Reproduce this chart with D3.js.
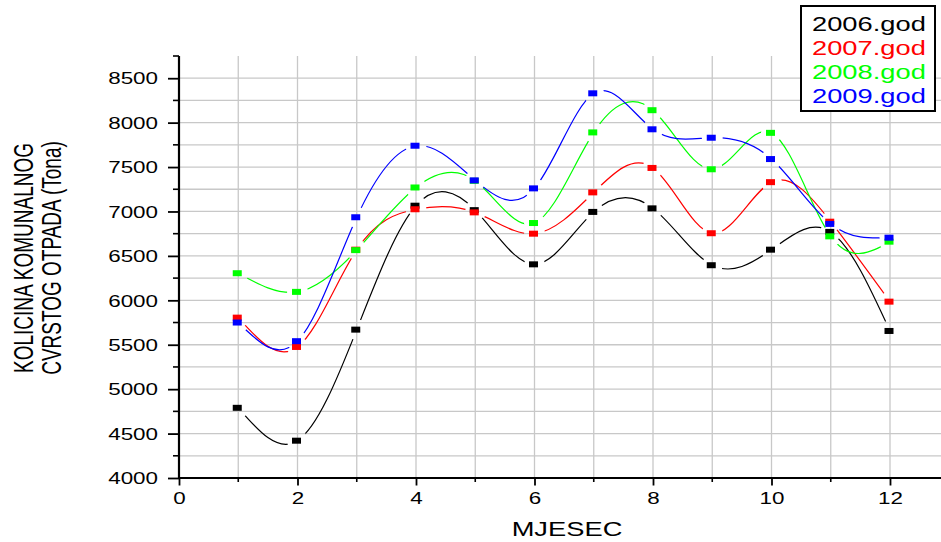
<!DOCTYPE html>
<html>
<head>
<meta charset="utf-8">
<script src="https://cdn.jsdelivr.net/npm/d3@7"></script>
<style>
	body { margin: 0; background: #fff; }
	text { font-family: 'Liberation Sans', Arial, sans-serif; }
</style>
</head>
<body>
<div id="chart"></div>
<script>
// monthly amounts of municipal solid waste (tonnes)
const months = [ 1, 2, 3, 4, 5, 6, 7, 8, 9, 10, 11, 12 ]
const god2006 = [ 4790, 4420, 5670, 7065, 7015, 6405, 6995, 7035, 6395, 6570, 6770, 5655 ]
const god2007 = [ 5805, 5475, 6570, 7025, 6990, 6750, 7215, 7490, 6755, 7330, 6885, 5985 ]
const god2008 = [ 6305, 6095, 6565, 7270, 7345, 6870, 7890, 8140, 7475, 7885, 6720, 6660 ]
const god2009 = [ 5750, 5540, 6935, 7740, 7350, 7260, 8330, 7925, 7830, 7590, 6860, 6705 ]
const seriesNames = [ '2006.god', '2007.god', '2008.god', '2009.god' ]
const seriesColors = [ '#000000', '#ff0000', '#00ff00', '#0000ff' ]
const xTicks = [ 0, 2, 4, 6, 8, 10, 12 ]
const yTicks = [ 4000, 4500, 5000, 5500, 6000, 6500, 7000, 7500, 8000, 8500 ]

const allSeries = [ god2006, god2007, god2008, god2009 ]
const width = 941
const height = 542
const sx = 1.4 // the original picture is stretched sideways

const svg = d3.select('#chart').append('svg')
	.attr('width', width)
	.attr('height', height)

svg.append('rect').attr('width', width).attr('height', height).attr('fill', '#fff')

const x = d3.scaleLinear().domain([ 0, 13 ]).range([ 179, 179 + 13 * 59.25 ])
const y = d3.scaleLinear().domain([ 4000, 8750 ]).range([ 478, 56 ])

// grid
const grid = svg.append('g').attr('stroke', '#c8c8c8').attr('stroke-width', 1.3)
grid.selectAll('line.h')
	.data(d3.range(4250, 8501, 250))
	.enter().append('line')
	.attr('x1', x(0)).attr('x2', width)
	.attr('y1', d => y(d)).attr('y2', d => y(d))
grid.selectAll('line.v')
	.data(d3.range(1, 13))
	.enter().append('line')
	.attr('y1', y(4000)).attr('y2', y(8750))
	.attr('x1', d => x(d)).attr('x2', d => x(d))

// axes
const yAxis = svg.append('g')
	.attr('transform', `translate(${ x(0) },0)`)
	.call(d3.axisLeft(y).tickValues(yTicks).tickFormat(d3.format('d'))
		.tickSize(11).tickPadding(10).tickSizeOuter(0))
yAxis.append('g').selectAll('line')
	.data(d3.range(4250, 8751, 500))
	.enter().append('line')
	.attr('x1', -6).attr('x2', 0)
	.attr('y1', d => y(d)).attr('y2', d => y(d))
	.attr('stroke', '#000').attr('stroke-width', 1.6)

const xAxis = svg.append('g')
	.attr('transform', `translate(0,${ y(4000) })`)
	.call(d3.axisBottom(x).tickValues(xTicks).tickFormat(d3.format('d'))
		.tickSize(7.5).tickPadding(7).tickSizeOuter(0))
xAxis.append('g').selectAll('line')
	.data(d3.range(1, 13, 2))
	.enter().append('line')
	.attr('y1', 0).attr('y2', 4)
	.attr('x1', d => x(d)).attr('x2', d => x(d))
	.attr('stroke', '#000').attr('stroke-width', 1.6)

xAxis.select('.domain').attr('d', `M${ x(0) },0H${ width }`)
yAxis.select('.domain').attr('d', `M0,${ y(4000) }V${ y(8750) }`)

svg.selectAll('.domain').attr('stroke', '#000').attr('stroke-width', 2.2)
svg.selectAll('.tick line').attr('stroke', '#000').attr('stroke-width', 1.8)
svg.selectAll('.tick text')
	.attr('font-family', "'Liberation Sans', Arial, sans-serif")
	.attr('font-size', 16)
	.attr('fill', '#000')
yAxis.selectAll('.tick text')
	.attr('x', -21 / sx)
	.attr('dy', '0.36em')
	.attr('transform', `scale(${ sx },1)`)
xAxis.selectAll('.tick text')
	.attr('y', 0)
	.attr('dy', 26)
	.attr('transform', `scale(${ sx },1)`)

// stretched text helper
const stretched = (str, tx, ty, size, color, anchor, rot, k = sx) => {
	svg.append('text')
		.attr('transform', rot
			? `translate(${ tx },${ ty }) rotate(-90) scale(1,${ k })`
			: `translate(${ tx },${ ty }) scale(${ k },1)`)
		.attr('text-anchor', anchor)
		.attr('font-size', size)
		.attr('fill', color)
		.text(str)
}

stretched('MJESEC', 567, 536, 19.5, '#000', 'middle')
stretched('KOLICINA KOMUNALNOG', 33, 258, 19, '#000', 'middle', true, 1.45)
stretched('CVRSTOG OTPADA (Tona)', 61, 258, 19, '#000', 'middle', true, 1.45)

// lines with gaps around their own symbols
const defs = svg.append('defs')
const line = d3.line()
	.x((d, i) => x(months[ i ]))
	.y(d => y(d))
	.curve(d3.curveNatural)

allSeries.forEach((vals, k) => {
	const mask = defs.append('mask')
		.attr('id', 'gap' + k)
		.attr('maskUnits', 'userSpaceOnUse')
		.attr('x', 0).attr('y', 0).attr('width', width).attr('height', height)
	mask.append('rect').attr('width', width).attr('height', height).attr('fill', '#fff')
	mask.selectAll('circle')
		.data(vals)
		.enter().append('circle')
		.attr('cx', (d, i) => x(months[ i ]))
		.attr('cy', d => y(d))
		.attr('r', 10.5)
		.attr('fill', '#000')
})

allSeries.forEach((vals, k) => {
	const g = svg.append('g')
	g.append('path')
		.datum(vals)
		.attr('d', line)
		.attr('fill', 'none')
		.attr('stroke', seriesColors[ k ])
		.attr('stroke-width', 1.2)
		.attr('mask', `url(#gap${ k })`)
	g.selectAll('rect')
		.data(vals)
		.enter().append('rect')
		.attr('x', (d, i) => x(months[ i ]) - 5.5)
		.attr('y', d => y(d) - 3)
		.attr('width', 9)
		.attr('height', 6)
		.attr('fill', seriesColors[ k ])
})

// legend
svg.append('rect')
	.attr('x', 801).attr('y', 6)
	.attr('width', 134).attr('height', 105)
	.attr('fill', '#fff')
	.attr('stroke', '#000')
	.attr('stroke-width', 2)
seriesNames.forEach((name, k) => {
	stretched(name, 812, 31 + k * 24, 19.5, seriesColors[ k ], 'start')
})
</script>
</body>
</html>
